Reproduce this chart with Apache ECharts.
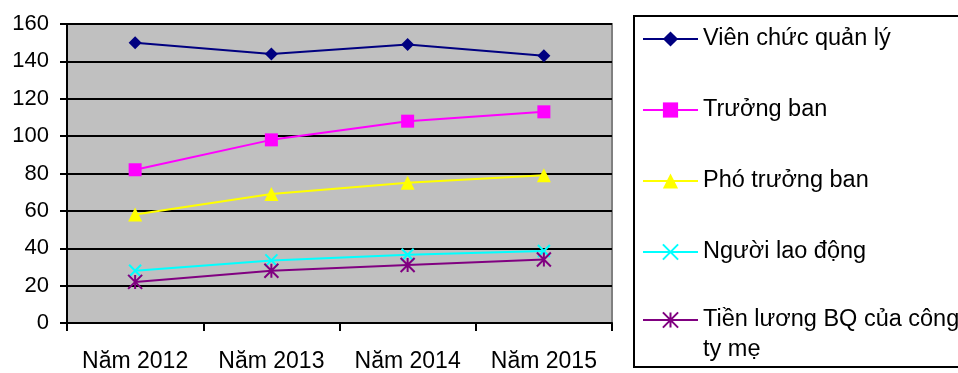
<!DOCTYPE html>
<html>
<head>
<meta charset="utf-8">
<script src="https://cdn.jsdelivr.net/npm/echarts@6/dist/echarts.min.js"></script>
<style>
  html, body { margin: 0; padding: 0; background: #fff; }
  #chart { width: 958px; height: 373px; }
</style>
</head>
<body>
<div id="chart"></div>
<script>
// Categories (years) and salary series
const years = ['Năm 2012', 'Năm 2013', 'Năm 2014', 'Năm 2015'];
const vienChucQuanLy = [150, 144, 149, 143];
const truongBan = [82, 98, 108, 113];
const phoTruongBan = [58, 69, 75, 79];
const nguoiLaoDong = [28, 33.5, 36.5, 38.5];
const tienLuongBQ = [22, 28, 31, 34];
const seriesNames = ['Viên chức quản lý', 'Trưởng ban', 'Phó trưởng ban', 'Người lao động', 'Tiền lương BQ của công ty mẹ'];
const yTicks = { min: 0, max: 160, interval: 20 };

const FONT = '"Liberation Sans", Arial, sans-serif';
const colors = ['#000080', '#FF00FF', '#FFFF00', '#00FFFF', '#800080'];
const symbols = [
  'diamond',
  'rect',
  'triangle',
  'path://M0,0L10,10M10,0L0,10',
  'path://M0,0L10,10M10,0L0,10M5,0L5,10'
];
const symbolSizes = [13, 13, 14, 12, 14];
const values = [vienChucQuanLy, truongBan, phoTruongBan, nguoiLaoDong, tienLuongBQ];

const series = seriesNames.map((name, i) => ({
  name: name,
  type: 'line',
  data: values[i],
  symbol: symbols[i],
  symbolSize: symbolSizes[i],
  showAllSymbol: true,
  lineStyle: { color: colors[i], width: 2 },
  itemStyle: {
    color: colors[i],
    borderColor: colors[i],
    borderWidth: i >= 3 ? 2 : 0
  },
  emphasis: { disabled: true },
  animation: false
}));

const legendText = { fontFamily: FONT, fontSize: 23.5, color: '#000', lineHeight: 30 };

const chart = echarts.init(document.getElementById('chart'), null, { renderer: 'canvas' });
chart.setOption({
  backgroundColor: '#fff',
  animation: false,
  grid: {
    left: 67, top: 24, right: 346, bottom: 50,
    show: true,
    backgroundColor: '#C0C0C0',
    borderColor: '#808080',
    borderWidth: 2
  },
  xAxis: {
    type: 'category',
    data: years,
    boundaryGap: true,
    axisLine: { lineStyle: { color: '#000', width: 2 } },
    axisTick: { show: true, interval: 0, length: 8, lineStyle: { color: '#000', width: 2 } },
    axisLabel: { interval: 0, hideOverlap: false, fontFamily: FONT, fontSize: 23, color: '#000', margin: 27 },
    splitLine: { show: false }
  },
  yAxis: {
    type: 'value',
    min: yTicks.min, max: yTicks.max, interval: yTicks.interval,
    axisLine: { show: true, lineStyle: { color: '#000', width: 2 } },
    axisTick: { show: true, length: 7, lineStyle: { color: '#000', width: 2 } },
    axisLabel: { fontFamily: FONT, fontSize: 22, color: '#000', margin: 18 },
    splitLine: { show: true, lineStyle: { color: '#000', width: 2 } }
  },
  graphic: [{
    type: 'rect',
    shape: { x: 634, y: 16, width: 340, height: 351 },
    style: { fill: '#fff', stroke: '#000', lineWidth: 2 },
    z: -1
  }],
  legend: [{
    orient: 'vertical',
    left: 642, top: 24,
    padding: 0,
    itemGap: 41,
    itemWidth: 55, itemHeight: 19,
    data: seriesNames.slice(0, 4),
    textStyle: legendText,
    selectedMode: false
  }, {
    // last entry wraps onto a second line below the marker
    orient: 'vertical',
    left: 642, top: 275,
    padding: 0,
    itemWidth: 55, itemHeight: 19,
    data: [seriesNames[4]],
    formatter: (name) => '\n' + name.replace(' ty mẹ', '\nty mẹ'),
    textStyle: legendText,
    selectedMode: false
  }],
  series: series
});
</script>
</body>
</html>
